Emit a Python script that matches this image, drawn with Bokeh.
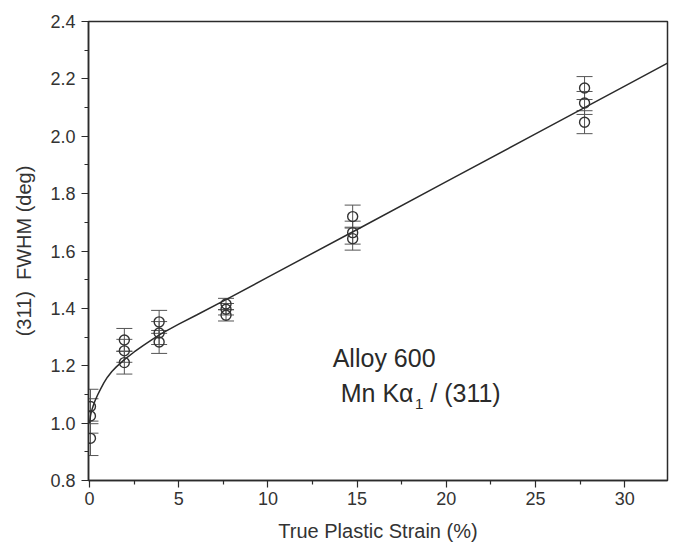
from bokeh.plotting import figure
from bokeh.models import (ColumnDataSource, Whisker, TeeHead, Label, FixedTicker,
                          PrintfTickFormatter, Range1d)
from bokeh.embed import file_html
from bokeh.resources import INLINE

# ---- data ----
strain = [0.05, 0.05, 0.05,
          1.95, 1.95, 1.95,
          3.9, 3.9, 3.9,
          7.65, 7.65, 7.65,
          14.75, 14.75, 14.75,
          27.75, 27.75, 27.75]
fwhm = [1.058, 1.025, 0.947,
        1.290, 1.252, 1.211,
        1.353, 1.314, 1.283,
        1.415, 1.397, 1.376,
        1.720, 1.664, 1.643,
        2.168, 2.116, 2.049]
err = [0.06, 0.06, 0.06,
       0.04, 0.04, 0.04,
       0.04, 0.04, 0.04,
       0.02, 0.02, 0.02,
       0.04, 0.04, 0.04,
       0.04, 0.04, 0.04]

fit_strain = [0, 0.05, 0.1, 0.2, 0.3, 0.45, 0.6, 0.8, 1.0, 1.25, 1.5, 1.75,
              2.0, 2.5, 3.0, 3.5, 4.0, 5.0, 6.0, 7.7,
              10, 15, 20, 25, 30, 32.4]
fit_fwhm = [1.00, 1.025, 1.04, 1.06, 1.077, 1.098, 1.117, 1.14, 1.16, 1.18,
            1.196, 1.21, 1.224, 1.248, 1.27, 1.291, 1.311, 1.345, 1.377, 1.432,
            1.509, 1.675, 1.842, 2.008, 2.175, 2.255]

x_ticks = [0, 5, 10, 15, 20, 25, 30]
x_minor = [2.5, 7.5, 12.5, 17.5, 22.5, 27.5]
y_ticks = [0.8, 1.0, 1.2, 1.4, 1.6, 1.8, 2.0, 2.2, 2.4]
y_minor = [0.9, 1.1, 1.3, 1.5, 1.7, 1.9, 2.1, 2.3]

x_title = "True Plastic Strain (%)"
y_title = "(311)\u00a0 FWHM (deg)"
note1 = "Alloy 600"
note2a = "Mn K\u03b1"
note2b = "1"
note2c = "/ (311)"

FONT = "Liberation Sans"
INK = "#2b2b2b"

p = figure(width=673, height=544,
           x_range=Range1d(-0.06, 32.4), y_range=Range1d(0.8, 2.4),
           output_backend="svg", toolbar_location=None,
           min_border_left=88, min_border_right=6,
           min_border_top=21, min_border_bottom=63,
           background_fill_color="white", border_fill_color="white")

p.xgrid.visible = False
p.ygrid.visible = False
p.outline_line_color = INK
p.outline_line_width = 1.5
p.outline_line_alpha = 1.0

for ax in (p.xaxis[0], p.yaxis[0]):
    ax.axis_line_color = INK
    ax.axis_line_width = 1.5
    ax.major_tick_line_color = INK
    ax.minor_tick_line_color = INK
    ax.major_tick_line_width = 1.2
    ax.minor_tick_line_width = 1.2
    ax.major_tick_out = 7
    ax.major_tick_in = 0
    ax.minor_tick_out = 4
    ax.minor_tick_in = 0
    ax.major_label_text_font = FONT
    ax.major_label_text_font_size = "18px"
    ax.major_label_text_color = "#333333"
    ax.axis_label_text_font = FONT
    ax.axis_label_text_font_style = "normal"
    ax.axis_label_text_color = "#333333"
    ax.axis_label_text_font_size = "20px"

p.xaxis[0].ticker = FixedTicker(ticks=x_ticks, minor_ticks=x_minor)
p.yaxis[0].ticker = FixedTicker(ticks=y_ticks, minor_ticks=y_minor)
p.yaxis[0].formatter = PrintfTickFormatter(format="%.1f")
p.xaxis[0].axis_label = x_title
p.yaxis[0].axis_label = y_title
p.xaxis[0].major_label_standoff = 4
p.xaxis[0].axis_label_standoff = 12
p.yaxis[0].major_label_standoff = 6
p.yaxis[0].axis_label_standoff = 12

src = ColumnDataSource(data=dict(
    x=strain, y=fwhm,
    upper=[v + e for v, e in zip(fwhm, err)],
    lower=[v - e for v, e in zip(fwhm, err)],
))

whisk = Whisker(base="x", upper="upper", lower="lower", source=src,
                dimension="height", line_color="#555555", line_width=1,
                upper_head=TeeHead(size=16, line_color="#555555", line_width=1),
                lower_head=TeeHead(size=16, line_color="#555555", line_width=1))
p.add_layout(whisk)

p.line(fit_strain, fit_fwhm, line_color=INK, line_width=1.5)

p.scatter("x", "y", source=src, marker="circle", size=10,
          fill_color=None, line_color="#333333", line_width=1.4)

common = dict(text_font=FONT, text_color="#2a2a2a", text_baseline="alphabetic")
p.add_layout(Label(x=13.63, y=1.228, text=note1, text_font_size="25px", **common))
p.add_layout(Label(x=14.08, y=1.105, text=note2a, text_font_size="25px", **common))
p.add_layout(Label(x=18.25, y=1.068, text=note2b, text_font_size="15px", **common))
p.add_layout(Label(x=19.1, y=1.105, text=note2c, text_font_size="25px", **common))

open("out.html", "w").write(file_html(p, INLINE))
